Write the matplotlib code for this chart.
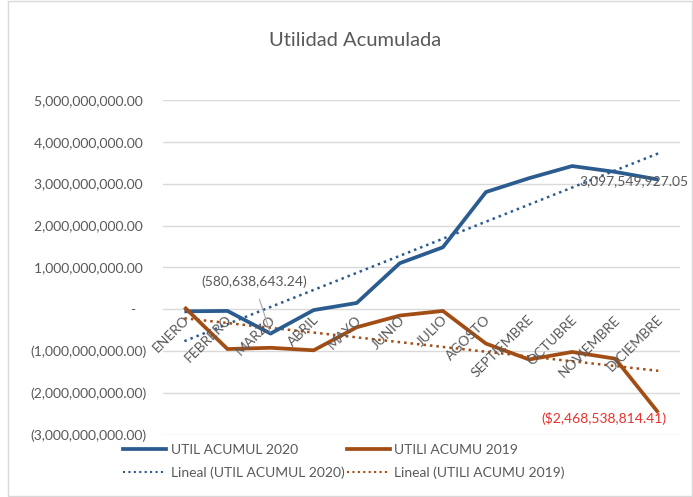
import numpy as np
import matplotlib
matplotlib.use("Agg")
import matplotlib.pyplot as plt
from matplotlib.lines import Line2D
from matplotlib.patches import Rectangle

plt.rcParams['font.family'] = ['Lato', 'DejaVu Sans']

meses = ['ENERO', 'FEBRERO', 'MARZO', 'ABRIL', 'MAYO', 'JUNIO', 'JULIO',
         'AGOSTO', 'SEPTIEMBRE', 'OCTUBRE', 'NOVIEMBRE', 'DICIEMBRE']
util_2020 = [-50e6, -40e6, -580638643.24, -20e6, 150e6, 1100e6, 1480e6,
             2800e6, 3130e6, 3420e6, 3280e6, 3097549927.05]
util_2019 = [50e6, -950e6, -920e6, -980e6, -430e6, -150e6, -40e6,
             -820e6, -1200e6, -1020e6, -1180e6, -2468538814.41]
y_ticks = np.arange(-3e9, 5e9 + 1, 1e9)

AZUL = '#2B5C8F'
CAFE = '#A24D14'
GRIS = '#595959'
FS = 10

def fmt(v):
    if v == 0:
        return '-   '
    s = f"{abs(v):,.2f}"
    return f"({s})" if v < 0 else s + ' '

fig = plt.figure(figsize=(6.93, 4.97), dpi=100)
fig.patches.append(Rectangle((0.012, 0.002), 0.986, 0.996, transform=fig.transFigure,
                             fill=False, edgecolor='#D9D9D9', lw=1))
ax = fig.add_axes([0.235, 0.125, 0.746, 0.674])

x = np.arange(len(meses))

for v in y_ticks:
    ax.axhline(v, color='#D9D9D9', lw=1, zorder=0)

# tendencias lineales
for serie, color in [(util_2020, AZUL), (util_2019, CAFE)]:
    m, b = np.polyfit(x, serie, 1)
    ax.plot(x, m * x + b, color=color, ls=(0, (1, 1.6)), lw=1.8, zorder=2)

ax.plot(x, util_2020, color=AZUL, lw=2.7, zorder=3, solid_capstyle='butt')
ax.plot(x, util_2019, color=CAFE, lw=2.7, zorder=3, solid_capstyle='butt')

ax.set_xlim(-0.5, 11.5)
ax.set_ylim(-3e9, 5e9)
ax.set_yticks(y_ticks)
ax.set_yticklabels([fmt(v) for v in y_ticks], color=GRIS, fontsize=FS)
ax.tick_params(axis='y', length=0, pad=12)
ax.set_xticks([])
for s in ax.spines.values():
    s.set_visible(False)

# etiquetas de mes sobre el eje cero
for i, mes in enumerate(meses):
    ax.annotate(mes, (i, 0), xytext=(-1, -3), textcoords='offset points',
                rotation=45, ha='right', va='top', color=GRIS, fontsize=FS,
                rotation_mode='anchor')

# etiquetas de datos
ax.annotate(f"({abs(util_2020[2]):,.2f})", (2, util_2020[2]), xytext=(-12, 37),
            textcoords='offset points', ha='center', va='center', color=GRIS,
            fontsize=FS,
            arrowprops=dict(arrowstyle='-', color='#A6A6A6', lw=0.8,
                            shrinkA=6, shrinkB=1))
ax.annotate(f"{util_2020[-1]:,.2f}", (11, util_2020[-1]), xytext=(-57, -1),
            textcoords='offset points', ha='left', va='center', color=GRIS,
            fontsize=FS, annotation_clip=False)
ax.annotate(f"(${abs(util_2019[-1]):,.2f})", (11, util_2019[-1]), xytext=(-84, -4),
            textcoords='offset points', ha='left', va='center', color='#E8312A',
            fontsize=FS, annotation_clip=False)

fig.text(0.512, 0.918, 'Utilidad Acumulada', ha='center', va='center',
         fontsize=14.5, color=GRIS)

h_2020 = Line2D([], [], color=AZUL, lw=2.7)
h_2019 = Line2D([], [], color=CAFE, lw=2.7)
h_t2020 = Line2D([], [], color=AZUL, lw=1.5, ls=(0, (1, 1.6)))
h_t2019 = Line2D([], [], color=CAFE, lw=1.5, ls=(0, (1, 1.6)))
# legend fills by column, so list the left column first
fig.legend([h_2020, h_t2020, h_2019, h_t2019],
           ['UTIL ACUMUL 2020', 'Lineal (UTIL ACUMUL 2020)',
            'UTILI ACUMU 2019', 'Lineal (UTILI ACUMU 2019)'],
           ncol=2, loc='upper left', bbox_to_anchor=(0.17, 0.118),
           frameon=False, fontsize=FS, labelcolor=GRIS, handlelength=3.1,
           handletextpad=0.3, columnspacing=0.2, labelspacing=0.75, borderaxespad=0)

fig.savefig('out.png', dpi=100)
